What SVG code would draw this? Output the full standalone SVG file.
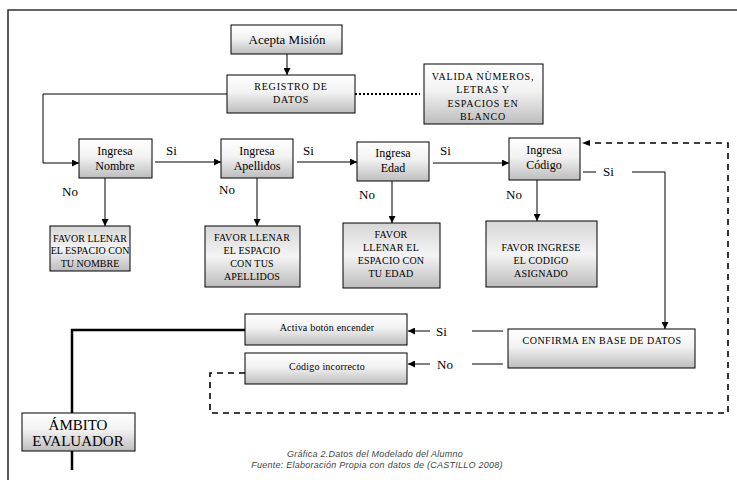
<svg xmlns="http://www.w3.org/2000/svg" width="737" height="480" viewBox="0 0 737 480">
<defs>
<linearGradient id="g" x1="0" y1="0" x2="0" y2="1">
<stop offset="0" stop-color="#ffffff"/>
<stop offset="0.45" stop-color="#f2f2f2"/>
<stop offset="1" stop-color="#bdbdbd"/>
</linearGradient>
<linearGradient id="g2" x1="0" y1="0" x2="0" y2="1">
<stop offset="0" stop-color="#d6d6d6"/>
<stop offset="0.5" stop-color="#f4f4f4"/>
<stop offset="1" stop-color="#bcbcbc"/>
</linearGradient>
<marker id="ah" viewBox="0 0 10 10" refX="10" refY="5" markerWidth="7" markerHeight="7" orient="auto" markerUnits="userSpaceOnUse">
<path d="M0,0 L10,5 L0,10 z" fill="#000"/>
</marker>
</defs>
<style>
.box{fill:url(#g);stroke:#000;stroke-width:1}
.box2{fill:url(#g2);stroke:#000;stroke-width:1}
text{font-family:'Liberation Serif','DejaVu Serif','Times New Roman',serif}
.t{fill:#000;text-anchor:middle}
.s{font-size:12px}
.c{font-size:10px;letter-spacing:0.2px}
.w{letter-spacing:0.8px}
.l{font-size:13px;fill:#000}
.ln{fill:none;stroke:#000;stroke-width:1}
.dash{fill:none;stroke:#000;stroke-width:1.6;stroke-dasharray:6,5}
text.cap{font-family:'Liberation Sans',Arial,sans-serif;font-style:italic;font-size:9px;letter-spacing:0.25px;fill:#444;text-anchor:middle}
</style>
<rect width="737" height="480" fill="#fff"/>
<path d="M8,480 V10 H737" fill="none" stroke="#333" stroke-width="1.6"/>

<g id="connectors">
<line class="ln" x1="287" y1="54" x2="287" y2="75" marker-end="url(#ah)"/>
<line x1="355" y1="94" x2="420" y2="94" stroke="#000" stroke-width="2" stroke-dasharray="2,2"/>
<polyline class="ln" points="227,94 43,94 43,163 79,163" marker-end="url(#ah)"/>
<line class="ln" x1="155" y1="162" x2="221" y2="162" marker-end="url(#ah)"/>
<line class="ln" x1="297" y1="162" x2="357" y2="162" marker-end="url(#ah)"/>
<line class="ln" x1="433" y1="163" x2="509" y2="163" marker-end="url(#ah)"/>
<line class="ln" x1="105" y1="178" x2="105" y2="226" marker-end="url(#ah)"/>
<line class="ln" x1="257" y1="178" x2="257" y2="226" marker-end="url(#ah)"/>
<line class="ln" x1="392" y1="181" x2="392" y2="223" marker-end="url(#ah)"/>
<line class="ln" x1="537" y1="180" x2="537" y2="221" marker-end="url(#ah)"/>
<line class="ln" x1="583" y1="172" x2="596" y2="172"/>
<polyline class="ln" points="632,172 665,172 665,329" marker-end="url(#ah)"/>
<line class="ln" x1="503" y1="331" x2="472" y2="331"/>
<line class="ln" x1="430" y1="331" x2="408" y2="331" marker-end="url(#ah)"/>
<line class="ln" x1="503" y1="364" x2="472" y2="364"/>
<line class="ln" x1="430" y1="364" x2="408" y2="364" marker-end="url(#ah)"/>
<polyline class="dash" points="245,373 210,373 210,413 728,413 728,143 590,143"/>
<path d="M582,143 L590,140 L590,146 z" fill="#000"/>
<polyline points="245,330 72,330 72,413" fill="none" stroke="#000" stroke-width="2.5"/>
<line x1="72" y1="451" x2="72" y2="470" stroke="#000" stroke-width="2.5"/>
<text class="l" x="166" y="155">Si</text>
<text class="l" x="303" y="155">Si</text>
<text class="l" x="440" y="155">Si</text>
<text class="l" x="603" y="176">Si</text>
<text class="l" x="62" y="196">No</text>
<text class="l" x="219" y="194">No</text>
<text class="l" x="359" y="199">No</text>
<text class="l" x="506" y="199">No</text>
<text class="l" x="436" y="336">Si</text>
<text class="l" x="437" y="369">No</text>
</g>

<g id="acepta">
<rect class="box" x="231" y="25" width="111" height="29"/>
<text class="t" x="287" y="44" style="font-size:13px">Acepta Misión</text>
</g>
<g id="registro">
<rect class="box" x="227" y="75" width="128" height="38"/>
<text class="t c w" x="291" y="90">REGISTRO DE</text>
<text class="t c w" x="291" y="103">DATOS</text>
</g>
<g id="valida">
<rect class="box" x="424" y="64" width="119" height="60"/>
<text class="t c w" x="483" y="80">VALIDA NÙMEROS,</text>
<text class="t c w" x="483" y="93">LETRAS Y</text>
<text class="t c w" x="483" y="107">ESPACIOS EN</text>
<text class="t c w" x="483" y="120">BLANCO</text>
</g>
<g id="nombre">
<rect class="box" x="79" y="139" width="73" height="39"/>
<text class="t s" x="115" y="155">Ingresa</text>
<text class="t s" x="115" y="170">Nombre</text>
</g>
<g id="apellidos">
<rect class="box" x="221" y="139" width="72" height="39"/>
<text class="t s" x="257" y="155">Ingresa</text>
<text class="t s" x="257" y="170">Apellidos</text>
</g>
<g id="edad">
<rect class="box" x="357" y="142" width="72" height="39"/>
<text class="t s" x="393" y="157">Ingresa</text>
<text class="t s" x="393" y="172">Edad</text>
</g>
<g id="codigo">
<rect class="box" x="509" y="138" width="71" height="42"/>
<text class="t s" x="544" y="154">Ingresa</text>
<text class="t s" x="544" y="169">Código</text>
</g>
<g id="favor1">
<rect class="box2" x="50" y="226" width="80" height="45"/>
<text class="t c" x="90" y="242" style="letter-spacing:0">FAVOR LLENAR</text>
<text class="t c" x="90" y="254" style="letter-spacing:0">EL ESPACIO CON</text>
<text class="t c" x="90" y="267" style="letter-spacing:0">TU NOMBRE</text>
</g>
<g id="favor2">
<rect class="box2" x="205" y="226" width="95" height="61"/>
<text class="t c" x="252" y="241">FAVOR LLENAR</text>
<text class="t c" x="252" y="254">EL ESPACIO</text>
<text class="t c" x="252" y="267">CON TUS</text>
<text class="t c" x="252" y="280">APELLIDOS</text>
</g>
<g id="favor3">
<rect class="box2" x="343" y="223" width="97" height="65"/>
<text class="t c" x="391" y="238">FAVOR</text>
<text class="t c" x="391" y="251">LLENAR EL</text>
<text class="t c" x="391" y="264">ESPACIO CON</text>
<text class="t c" x="391" y="277">TU EDAD</text>
</g>
<g id="favor4">
<rect class="box2" x="486" y="221" width="111" height="66"/>
<text class="t c" x="541" y="251">FAVOR INGRESE</text>
<text class="t c" x="541" y="264">EL CODIGO</text>
<text class="t c" x="541" y="277">ASIGNADO</text>
</g>
<g id="confirma">
<rect class="box" x="508" y="329" width="187" height="39"/>
<text class="t c" x="602" y="344" style="letter-spacing:0.5px">CONFIRMA EN BASE DE DATOS</text>
</g>
<g id="activa">
<rect class="box" x="245" y="314" width="162" height="31"/>
<text class="t c" x="327" y="331">Activa botón encender</text>
</g>
<g id="incorrecto">
<rect class="box" x="245" y="353" width="162" height="31"/>
<text class="t c" x="327" y="370">Código incorrecto</text>
</g>
<g id="ambito">
<rect class="box" x="22" y="413" width="113" height="38"/>
<text class="t" x="78" y="430" style="font-size:15px">ÁMBITO</text>
<text class="t" x="78" y="446" style="font-size:15px">EVALUADOR</text>
</g>
<g id="caption">
<text class="cap" x="375" y="457">Gráfica 2.Datos del Modelado del Alumno</text>
<text class="cap" x="377" y="468">Fuente: Elaboración Propia con datos de (CASTILLO 2008)</text>
</g>
</svg>
